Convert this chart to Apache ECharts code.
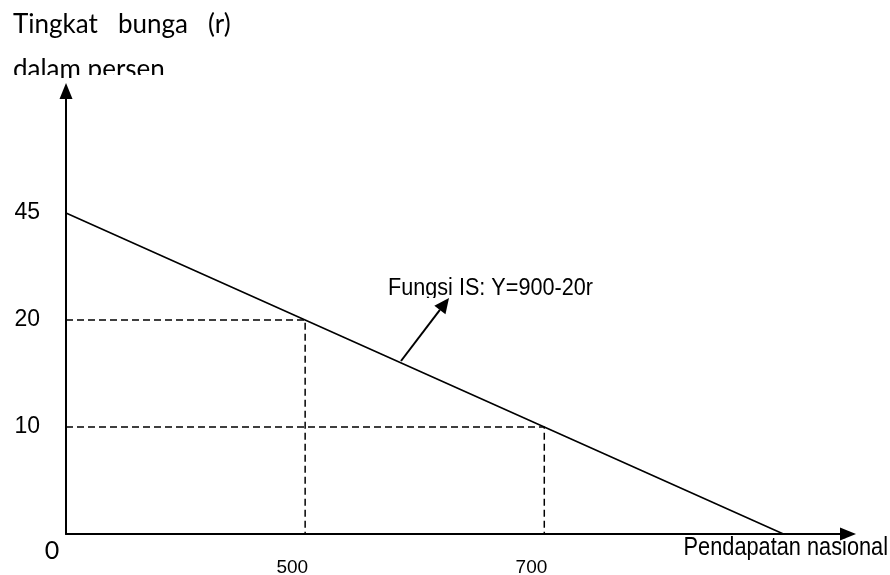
<!DOCTYPE html>
<html>
<head>
<meta charset="utf-8">
<script src="https://cdn.jsdelivr.net/npm/echarts@6/dist/echarts.min.js"></script>
<style>
html,body{margin:0;padding:0;background:#fff;}
#chart{width:890px;height:575px;}
</style>
</head>
<body>
<div id="chart"></div>
<script>
// Schematic axes: tick values are equally spaced on the drawing
const incomeTicks = [0, 500, 700, 900];      // Pendapatan nasional (Y)
const rateTicks = [0, 10, 20, 45];           // Tingkat bunga (r)
const xTickLabels = ['', '500', '700', ''];
const yTickLabels = ['', '10', '20', '45'];
// IS function: Y = 900 - 20r
const isIncome = [0, 500, 700, 900];
const isRate = [45, 20, 10, 0];
// dashed guide points
const guideIncome = [500, 700];
const guideRate = [20, 10];

const xPos = v => incomeTicks.indexOf(v);
const yPos = v => rateTicks.indexOf(v);

const ARIAL = "'Liberation Sans',Arial,sans-serif";
const TITLEF = "Lato,'Open Sans',sans-serif";

const series = [];
series.push({
  type: 'line',
  data: isIncome.map((v, i) => [xPos(v), yPos(isRate[i])]),
  symbol: 'none',
  lineStyle: {color: '#000', width: 1.6},
  z: 3
});
guideIncome.forEach((g, i) => {
  series.push({
    type: 'line',
    data: [[0, yPos(guideRate[i])], [xPos(g), yPos(guideRate[i])], [xPos(g), 0]],
    symbol: 'none',
    lineStyle: {color: '#000', width: 1.5, type: [7, 4]},
    z: 2
  });
});

// annotation arrow (pointer from label to IS line)
const a0 = [401, 361], a1 = [449, 298];
const dx = a1[0] - a0[0], dy = a1[1] - a0[1];
const L = Math.hypot(dx, dy), ux = dx / L, uy = dy / L;
const headL = 15, headW = 7;
const base = [a1[0] - ux * headL, a1[1] - uy * headL];
const head = [a1, [base[0] - uy * headW, base[1] + ux * headW], [base[0] + uy * headW, base[1] - ux * headW]];

const chart = echarts.init(document.getElementById('chart'));
chart.setOption({
  animation: false,
  backgroundColor: '#fff',
  grid: {left: 66, right: 42, top: 91, bottom: 41, containLabel: false, outerBoundsMode: 'none'},
  xAxis: {
    type: 'value', min: 0, max: 3.27, interval: 1,
    splitLine: {show: false},
    axisTick: {show: false},
    axisLine: {lineStyle: {color: '#000', width: 2}, symbol: ['none', 'triangle'], symbolSize: [13, 16]},
    axisLabel: {
      formatter: v => (Number.isInteger(v) && xTickLabels[v]) ? xTickLabels[v] : '',
      color: '#000', fontFamily: ARIAL, fontSize: 19, margin: 24, align: 'right', padding: [0, -3, 0, 0]
    }
  },
  yAxis: {
    type: 'value', min: 0, max: 4.14, interval: 1,
    splitLine: {show: false},
    axisTick: {show: false},
    axisLine: {lineStyle: {color: '#000', width: 2}, symbol: ['none', 'triangle'], symbolSize: [13, 16]},
    axisLabel: {
      formatter: v => (Number.isInteger(v) && yTickLabels[v]) ? yTickLabels[v] : '',
      color: '#000', fontFamily: ARIAL, fontSize: 23, margin: 26, padding: [0, 0, 10, 0]
    }
  },
  series: series,
  graphic: [
    {type: 'text', x: 13, y: 25, style: {text: 'Tingkat', font: '26px ' + TITLEF, fill: '#000', verticalAlign: 'middle'}},
    {type: 'text', x: 118, y: 25, style: {text: 'bunga', font: '26px ' + TITLEF, fill: '#000', verticalAlign: 'middle'}},
    {type: 'text', x: 208, y: 25, style: {text: '(r)', font: '26px ' + TITLEF, fill: '#000', verticalAlign: 'middle'}},
    {type: 'text', x: 13, y: 70, style: {text: 'dalam persen', font: '26px ' + TITLEF, fill: '#000', verticalAlign: 'middle'}},
    {type: 'rect', shape: {x: 0, y: 75, width: 60, height: 20}, style: {fill: '#fff'}},
    {type: 'rect', shape: {x: 73, y: 75, width: 200, height: 20}, style: {fill: '#fff'}},
    {type: 'text', x: 52, y: 551, style: {text: '0', font: '25px ' + TITLEF, fill: '#000', align: 'center', verticalAlign: 'middle'}},
    {type: 'text', x: 888, y: 548, scaleX: 0.87, style: {text: 'Pendapatan nasional', font: '25px ' + ARIAL, fill: '#000', align: 'right', verticalAlign: 'middle'}},
    {type: 'text', x: 388, y: 289, scaleX: 0.92, style: {text: 'Fungsi IS: Y=900-20r', font: '23.5px ' + ARIAL, fill: '#000', verticalAlign: 'middle'}},
    {type: 'rect', shape: {x: 380, y: 298, width: 220, height: 10}, style: {fill: '#fff'}},
    {type: 'line', shape: {x1: a0[0], y1: a0[1], x2: base[0], y2: base[1]}, style: {stroke: '#000', lineWidth: 2}},
    {type: 'polygon', shape: {points: head}, style: {fill: '#000'}}
  ]
});
</script>
</body>
</html>
